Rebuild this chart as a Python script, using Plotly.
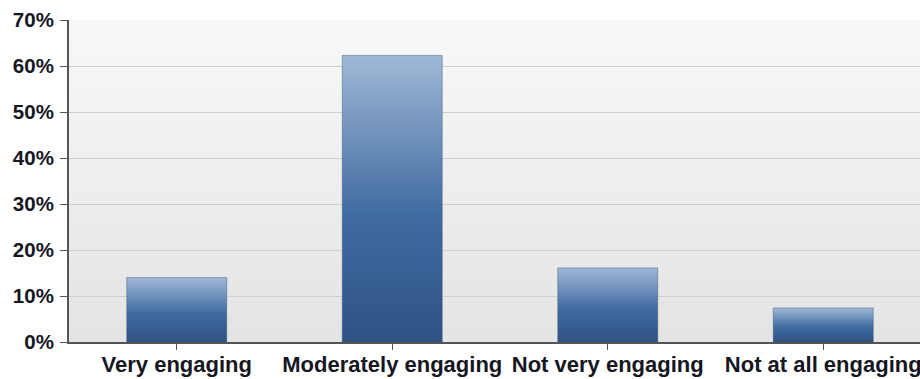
import base64, struct, zlib
import plotly.graph_objects as go

categories = ["Very engaging", "Moderately engaging", "Not very engaging", "Not at all engaging"]
values = [14.0, 62.3, 16.1, 7.4]
y_tickvals = [0, 10, 20, 30, 40, 50, 60, 70]
y_ticktext = ["0%", "10%", "20%", "30%", "40%", "50%", "60%", "70%"]

BAR_HALF = 0.232
FAMILY = "Liberation Sans, Arial, sans-serif"
TEXT_COLOR = "#16161f"


def gradient_png(top, bottom, n=64):
    rows = b""
    for i in range(n):
        t = i / (n - 1)
        px = bytes(int(round(top[k] + (bottom[k] - top[k]) * t)) for k in range(3))
        rows += b"\x00" + px
    def chunk(tag, data):
        c = struct.pack(">I", len(data)) + tag + data
        return c + struct.pack(">I", zlib.crc32(tag + data) & 0xFFFFFFFF)
    png = b"\x89PNG\r\n\x1a\n"
    png += chunk(b"IHDR", struct.pack(">IIBBBBB", 1, n, 8, 2, 0, 0, 0))
    png += chunk(b"IDAT", zlib.compress(rows))
    png += chunk(b"IEND", b"")
    return "data:image/png;base64," + base64.b64encode(png).decode()


fig = go.Figure()
for i, (cat, v) in enumerate(zip(categories, values)):
    fig.add_trace(go.Scatter(
        x=[i - BAR_HALF, i - BAR_HALF, i + BAR_HALF, i + BAR_HALF, i - BAR_HALF],
        y=[0, v, v, 0, 0],
        mode="lines",
        fill="toself",
        line=dict(width=1, color="rgba(45,70,105,0.4)"),
        fillgradient=dict(type="vertical",
                          colorscale=[[0, "#2f5283"], [0.45, "#416ca2"], [1, "#a0b8d6"]]),
        hoverinfo="skip",
        name=cat,
        showlegend=False,
    ))

fig.add_layout_image(dict(
    source=gradient_png((248, 248, 248), (228, 228, 228)),
    xref="paper", yref="paper", x=0, y=1, sizex=1, sizey=1,
    sizing="stretch", xanchor="left", yanchor="top", layer="below",
))

fig.update_layout(
    width=920, height=379,
    margin=dict(l=69, r=0, t=20, b=37),
    paper_bgcolor="white",
    plot_bgcolor="rgba(0,0,0,0)",
    font=dict(family=FAMILY, color=TEXT_COLOR),
    showlegend=False,
)
fig.update_xaxes(
    range=[-0.5, 3.449],
    tickvals=list(range(len(categories))),
    ticktext=[f"<b>{c}</b>" for c in categories],
    tickangle=0,
    ticklabeloverflow="allow",
    ticklabelstandoff=-4,
    showgrid=False, zeroline=False,
    showline=True, linecolor="#555555", linewidth=2,
    ticks="outside", ticklen=6, tickcolor="#555555", tickwidth=1,
    tickfont=dict(family=FAMILY, size=22, color=TEXT_COLOR),
    automargin=False, fixedrange=True,
)
fig.update_yaxes(
    range=[0, 70],
    tickvals=y_tickvals, ticktext=[f"<b>{t}</b>" for t in y_ticktext],
    showgrid=True, gridcolor="#cfcfcf", gridwidth=1,
    zeroline=False,
    showline=True, linecolor="#555555", linewidth=2,
    ticks="outside", ticklen=7, tickcolor="#555555", tickwidth=1,
    tickfont=dict(family=FAMILY, size=20.5, color=TEXT_COLOR),
    ticklabelstandoff=2,
    automargin=False, fixedrange=True,
)

fig.write_html("out.html")
